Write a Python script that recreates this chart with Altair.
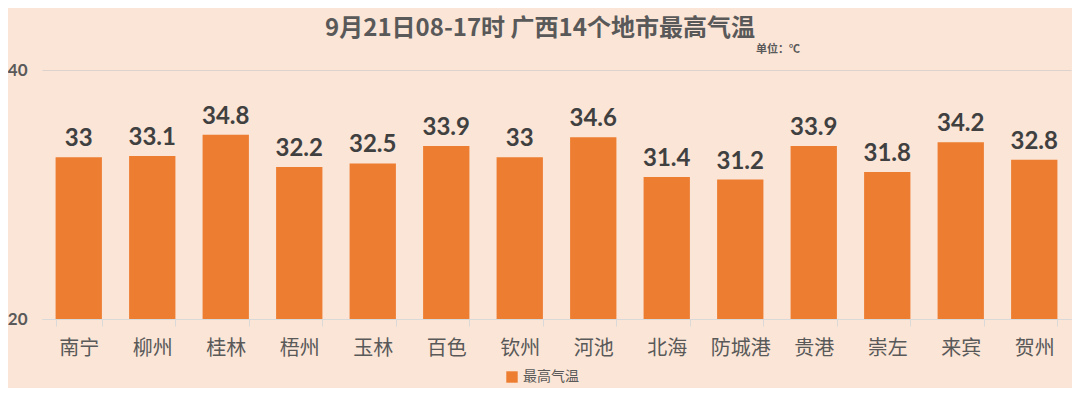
import altair as alt
import pandas as pd

cities = ["南宁", "柳州", "桂林", "梧州", "玉林", "百色", "钦州", "河池", "北海", "防城港", "贵港", "崇左", "来宾", "贺州"]
temps = [33, 33.1, 34.8, 32.2, 32.5, 33.9, 33, 34.6, 31.4, 31.2, 33.9, 31.8, 34.2, 32.8]
series = "最高气温"
y_ticks = [20, 40]
title_text = "9月21日08-17时 广西14个地市最高气温"
unit_text = "单位：℃"

df = pd.DataFrame({"city": cities, "temp": temps, "series": [series] * len(cities)})

BG = "#FBE5D6"
BAR = "#ED7D31"
TXT = "#595959"
CJK = "Noto Sans CJK SC"

x = alt.X("city:N", sort=cities, title=None,
          scale=alt.Scale(paddingInner=0.37, paddingOuter=0.185),
          axis=alt.Axis(labelAngle=0, labelFont=CJK, labelFontSize=20, labelColor=TXT,
                        labelPadding=12, domainColor="#D9D9D9", tickColor="#D9D9D9",
                        tickSize=7, tickBand="extent", grid=False))
y = alt.Y("temp:Q", title=None,
          scale=alt.Scale(domain=[20, 40], nice=False, zero=False),
          axis=alt.Axis(values=y_ticks, labelFont="Lato", labelFontWeight="bold",
                        labelFontSize=17, labelColor=TXT, labelPadding=15,
                        domain=False, ticks=False, grid=True, gridColor="#DDD3CC",
                        gridWidth=1.2))

base = alt.Chart(df)

bars = base.mark_bar(color=BAR).encode(
    x=x, y=y, y2=alt.datum(20),
    color=alt.Color("series:N", scale=alt.Scale(range=[BAR]),
                    legend=alt.Legend(title=None, orient="none", legendX=463, legendY=300,
                                      symbolType="square", symbolSize=130,
                                      labelFont=CJK, labelFontSize=14, labelColor=TXT,
                                      symbolStrokeWidth=0)),
)

labels = base.mark_text(baseline="bottom", dy=-6, font="Lato", fontWeight="bold",
                        fontSize=24, color="#404040").encode(
    x=alt.X("city:N", sort=cities), y="temp:Q", text="temp:Q")

unit = alt.Chart(pd.DataFrame({"t": [unit_text]})).mark_text(
    align="right", baseline="middle", font=CJK, fontSize=11, fontWeight="bold", color=TXT
).encode(x=alt.value(758), y=alt.value(-20), text="t:N")

title = alt.Chart(pd.DataFrame({"t": [title_text]})).mark_text(
    align="center", baseline="middle", font=CJK, fontSize=24, fontWeight="bold", color=TXT
).encode(x=alt.value(498), y=alt.value(-41), text="t:N")

chart = alt.layer(bars, labels, unit, title).properties(
    width=1029, height=249,
    background=BG,
    autosize=alt.AutoSizeParams(type="none"),
    padding={"left": 34, "top": 62, "right": 1, "bottom": 69},
).configure_view(stroke=None)

chart.save("out.html", embed_options={"renderer": "svg", "actions": False})
